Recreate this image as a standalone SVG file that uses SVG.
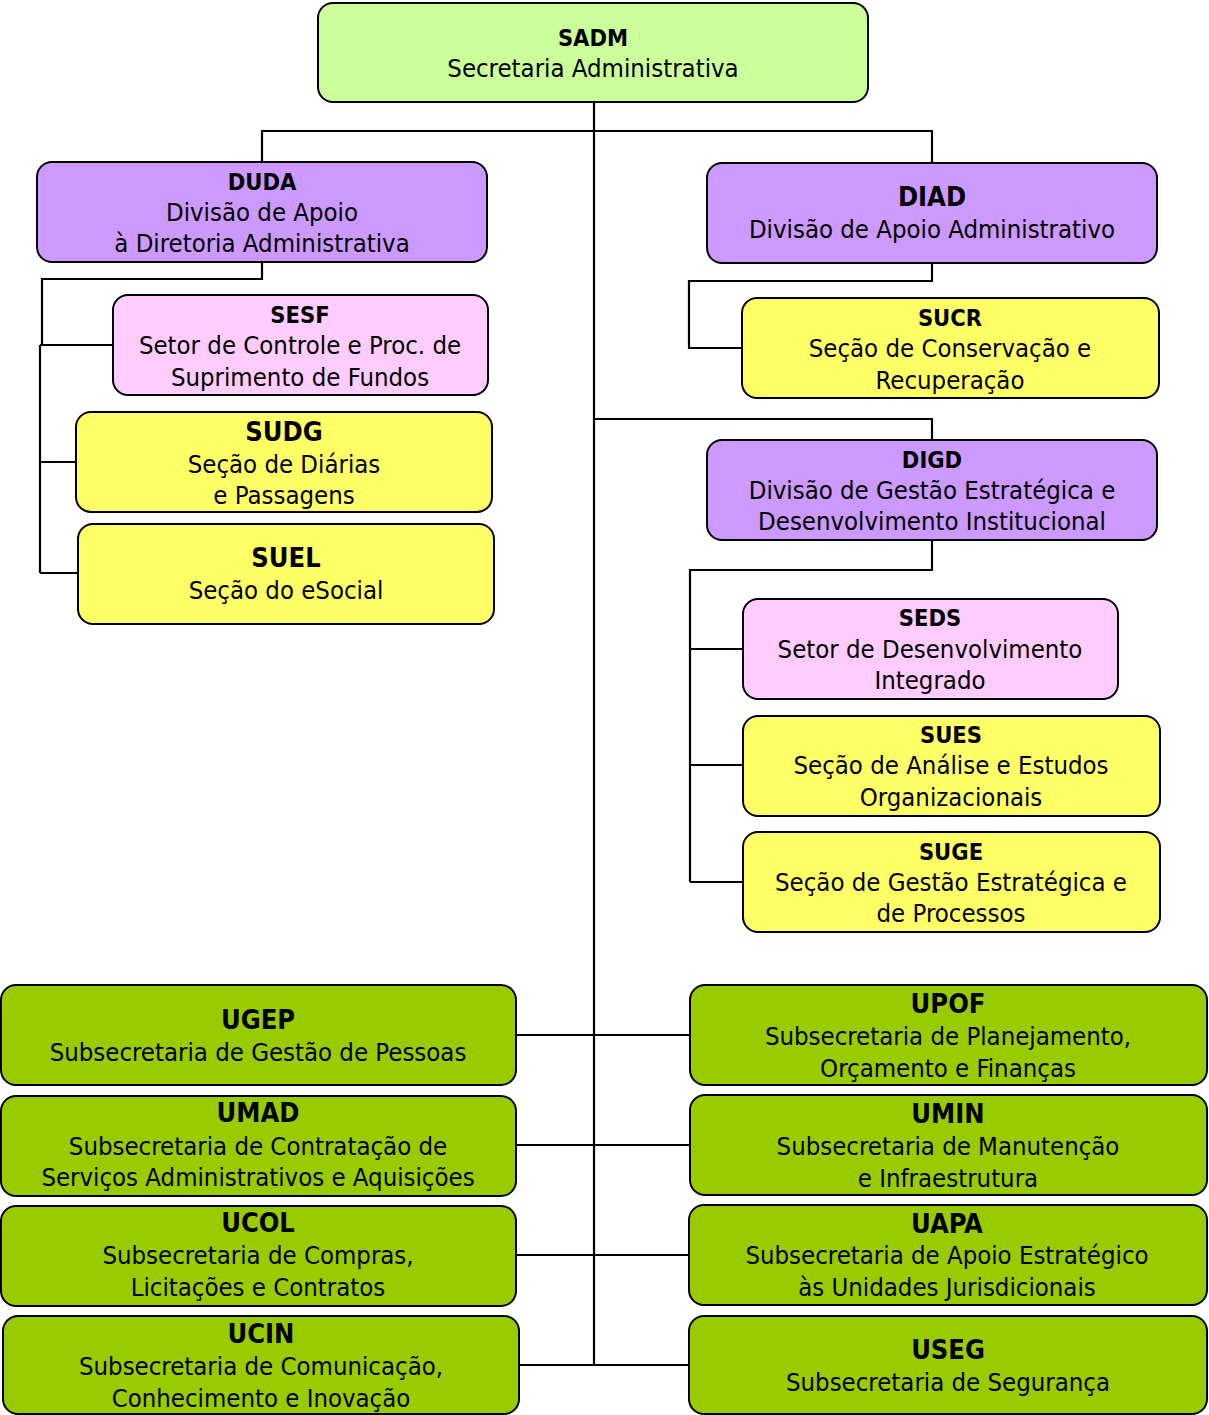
<svg xmlns="http://www.w3.org/2000/svg" width="1209" height="1415" viewBox="0 0 1209 1415">
<style>
.b{stroke:#000;stroke-width:2}
.g1{fill:#CCFF99}.p{fill:#CC99FF}.pk{fill:#FFCCFF}.y{fill:#FFFF66}.g{fill:#99CC00}
text{font-family:"DejaVu Sans Condensed","DejaVu Sans",sans-serif;font-stretch:condensed;font-size:25.5px;text-anchor:middle;fill:#000}
.c{font-weight:bold;font-size:23.5px}
.C{font-weight:bold;font-size:27px}
.ln{fill:none;stroke:#000;stroke-width:2.2}
</style>
<rect width="1209" height="1415" fill="#fff"/>
<g id="connectors" class="ln">
<path d="M594 102V1365"/>
<path d="M262 162V131H932V163"/>
<path d="M262 262V279H42V345M40 345V573M40 345H113M40 462H76M40 573H78"/>
<path d="M932 263V281H689V348H742"/>
<path d="M594 419H932V440"/>
<path d="M932 540V570H690V882M690 649H743M690 765H743M690 882H743"/>
<path d="M516 1035H690M516 1145H690M516 1255H689M519 1365H689"/>
</g>
<g id="SADM"><rect class="b g1" x="318" y="3" width="550" height="99" rx="15"/><text class="c" x="593" y="46">SADM</text><text x="593" y="77">Secretaria Administrativa</text></g>
<g id="DUDA"><rect class="b p" x="37" y="162" width="450" height="100" rx="15"/><text class="c" x="262" y="190">DUDA</text><text x="262" y="221">Divisão de Apoio</text><text x="262" y="252">à Diretoria Administrativa</text></g>
<g id="DIAD"><rect class="b p" x="707" y="163" width="450" height="100" rx="15"/><text class="C" x="932" y="206">DIAD</text><text x="932" y="238">Divisão de Apoio Administrativo</text></g>
<g id="SESF"><rect class="b pk" x="113" y="295" width="375" height="100" rx="15"/><text class="c" x="300" y="323">SESF</text><text x="300" y="354">Setor de Controle e Proc. de</text><text x="300" y="386">Suprimento de Fundos</text></g>
<g id="SUDG"><rect class="b y" x="76" y="412" width="416" height="100" rx="15"/><text class="C" x="284" y="441">SUDG</text><text x="284" y="473">Seção de Diárias</text><text x="284" y="504">e Passagens</text></g>
<g id="SUEL"><rect class="b y" x="78" y="524" width="416" height="100" rx="15"/><text class="C" x="286" y="567">SUEL</text><text x="286" y="599">Seção do eSocial</text></g>
<g id="SUCR"><rect class="b y" x="742" y="298" width="417" height="100" rx="15"/><text class="c" x="950" y="326">SUCR</text><text x="950" y="357">Seção de Conservação e</text><text x="950" y="389">Recuperação</text></g>
<g id="DIGD"><rect class="b p" x="707" y="440" width="450" height="100" rx="15"/><text class="c" x="932" y="468">DIGD</text><text x="932" y="499">Divisão de Gestão Estratégica e</text><text x="932" y="530">Desenvolvimento Institucional</text></g>
<g id="SEDS"><rect class="b pk" x="743" y="599" width="375" height="100" rx="15"/><text class="c" x="930" y="626">SEDS</text><text x="930" y="658">Setor de Desenvolvimento</text><text x="930" y="689">Integrado</text></g>
<g id="SUES"><rect class="b y" x="743" y="716" width="417" height="100" rx="15"/><text class="c" x="951" y="743">SUES</text><text x="951" y="774">Seção de Análise e Estudos</text><text x="951" y="806">Organizacionais</text></g>
<g id="SUGE"><rect class="b y" x="743" y="832" width="417" height="100" rx="15"/><text class="c" x="951" y="860">SUGE</text><text x="951" y="891">Seção de Gestão Estratégica e</text><text x="951" y="922">de Processos</text></g>
<g id="UGEP"><rect class="b g" x="1" y="985" width="515" height="100" rx="15"/><text class="C" x="258" y="1029">UGEP</text><text x="258" y="1061">Subsecretaria de Gestão de Pessoas</text></g>
<g id="UMAD"><rect class="b g" x="1" y="1096" width="515" height="100" rx="15"/><text class="C" x="258" y="1122">UMAD</text><text x="258" y="1155">Subsecretaria de Contratação de</text><text x="258" y="1186">Serviços Administrativos e Aquisições</text></g>
<g id="UCOL"><rect class="b g" x="1" y="1206" width="515" height="100" rx="15"/><text class="C" x="258" y="1232">UCOL</text><text x="258" y="1264">Subsecretaria de Compras,</text><text x="258" y="1296">Licitações e Contratos</text></g>
<g id="UCIN"><rect class="b g" x="3" y="1316" width="516" height="98" rx="15"/><text class="C" x="261" y="1343">UCIN</text><text x="261" y="1375">Subsecretaria de Comunicação,</text><text x="261" y="1407">Conhecimento e Inovação</text></g>
<g id="UPOF"><rect class="b g" x="690" y="985" width="517" height="100" rx="15"/><text class="C" x="948" y="1013">UPOF</text><text x="948" y="1045">Subsecretaria de Planejamento,</text><text x="948" y="1077">Orçamento e Finanças</text></g>
<g id="UMIN"><rect class="b g" x="690" y="1095" width="517" height="100" rx="15"/><text class="C" x="948" y="1123">UMIN</text><text x="948" y="1155">Subsecretaria de Manutenção</text><text x="948" y="1187">e Infraestrutura</text></g>
<g id="UAPA"><rect class="b g" x="689" y="1205" width="518" height="100" rx="15"/><text class="C" x="947" y="1233">UAPA</text><text x="947" y="1264">Subsecretaria de Apoio Estratégico</text><text x="947" y="1296">às Unidades Jurisdicionais</text></g>
<g id="USEG"><rect class="b g" x="689" y="1316" width="518" height="98" rx="15"/><text class="C" x="948" y="1359">USEG</text><text x="948" y="1391">Subsecretaria de Segurança</text></g>
</svg>
